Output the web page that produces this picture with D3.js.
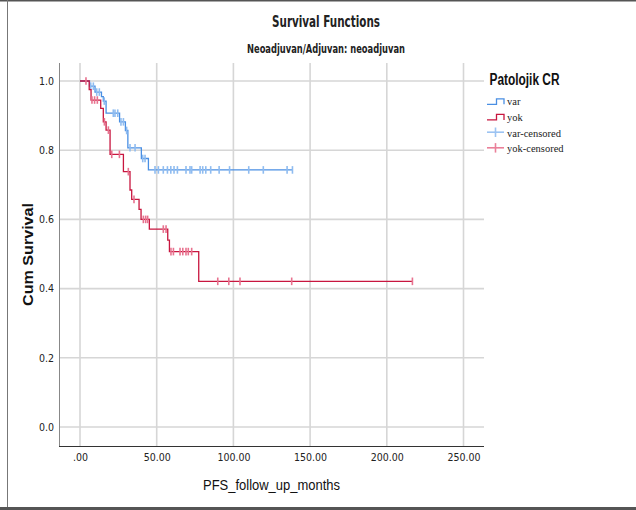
<!DOCTYPE html>
<html>
<head>
<meta charset="utf-8">
<script src="https://cdn.jsdelivr.net/npm/d3@7"></script>
<style>
  html, body { margin: 0; padding: 0; background: #fff; }
  svg { display: block; }
</style>
</head>
<body>
<svg id="chart" width="636" height="510"></svg>
<script>
// Kaplan-Meier progression-free survival, neoadjuvant subgroup, by pathological complete response
const groups = ["var", "yok"];
const legendLabels = ["var", "yok", "var-censored", "yok-censored"];

// "var" group: times (months) of each drop and the cumulative survival after it
const varEventTimes = [6.2, 9.8, 14.0, 15.2, 17.0, 25.8, 29.6, 31.2, 40.0, 44.6];
const varSurvival   = [0.985, 0.968, 0.955, 0.942, 0.907, 0.882, 0.857, 0.807, 0.776, 0.743];
const varCensorTimes = [7.0, 8.7, 10.9, 12.6, 15.8, 21.7, 22.8, 24.6, 26.7, 28.3, 30.4, 32.6, 35.9,
  40.9, 42.4, 48.9, 51.1, 54.3, 57.0, 59.2, 61.3, 63.5, 69.1, 71.7, 72.8, 78.3, 80.0, 82.0, 85.2,
  90.7, 97.5, 110.0, 119.5, 135.0, 138.5];

// "yok" group
const yokEventTimes = [6.0, 7.2, 13.5, 15.2, 17.0, 19.6, 28.3, 32.6, 33.7, 38.5, 39.8, 45.2, 57.2, 58.3, 77.4];
const yokSurvival   = [0.975, 0.945, 0.921, 0.882, 0.858, 0.788, 0.738, 0.685, 0.658, 0.629, 0.600,
  0.572, 0.540, 0.507, 0.421];
const yokCensorTimes = [3.9, 7.8, 9.5, 11.3, 15.9, 18.5, 20.7, 25.7, 31.5, 35.2, 41.3, 42.8, 44.1,
  54.3, 56.1, 59.3, 60.9, 65.2, 67.0, 69.1, 70.6, 72.8, 89.8, 97.0, 104.3, 138.0, 216.7];

const xTicks = [0, 50, 100, 150, 200, 250];
const yTicks = [0, 0.2, 0.4, 0.6, 0.8, 1.0];
const xTickLabels = [".00", "50.00", "100.00", "150.00", "200.00", "250.00"];

const colors = { var: "#4a8fe3", yok: "#c8163f" };
const censorColors = { var: "#8fbcf0", yok: "#e8728f" };

const svg = d3.select("#chart");
svg.append("rect").attr("width", 636).attr("height", 510).attr("fill", "#fff");

// outer frame
svg.append("line").attr("x1", 0).attr("x2", 636).attr("y1", 0.75).attr("y2", 0.75)
  .attr("stroke", "#555").attr("stroke-width", 1.5);
svg.append("line").attr("x1", 7.5).attr("x2", 7.5).attr("y1", 0).attr("y2", 510)
  .attr("stroke", "#777").attr("stroke-width", 1);
svg.append("line").attr("x1", 0).attr("x2", 636).attr("y1", 508.5).attr("y2", 508.5)
  .attr("stroke", "#555").attr("stroke-width", 3);

const plot = { left: 59, right: 484, top: 63, bottom: 446 };
const x = d3.scaleLinear().domain([0, 250]).range([80, 463.5]);
const y = d3.scaleLinear().domain([0, 1]).range([427, 81]);

const condensed = "'Liberation Sans Narrow', 'DejaVu Sans Condensed', 'Liberation Sans', sans-serif";

// gridlines
const grid = svg.append("g").attr("stroke", "#d6d6d6").attr("stroke-width", 1.6);
grid.selectAll("line.v").data(xTicks).join("line").attr("class", "v")
  .attr("x1", d => x(d)).attr("x2", d => x(d))
  .attr("y1", plot.top).attr("y2", plot.bottom);
grid.selectAll("line.h").data(yTicks).join("line").attr("class", "h")
  .attr("x1", plot.left).attr("x2", plot.right)
  .attr("y1", d => y(d)).attr("y2", d => y(d));

// axes
const xAxis = d3.axisBottom(x).tickValues(xTicks)
  .tickFormat((d, i) => xTickLabels[i]).tickSize(0).tickPadding(8);
const gx = svg.append("g").attr("transform", `translate(0,${plot.bottom})`).call(xAxis);
gx.select(".domain").remove();
gx.append("line").attr("x1", plot.left).attr("x2", plot.right).attr("y1", 0.5).attr("y2", 0.5)
  .attr("stroke", "#333").attr("stroke-width", 1);
gx.selectAll("text").attr("font-family", condensed).attr("font-size", 10.5).attr("fill", "#222");

const yAxis = d3.axisLeft(y).tickValues(yTicks).tickFormat(d3.format(".1f")).tickSize(0).tickPadding(5);
const gy = svg.append("g").attr("transform", `translate(${plot.left},0)`).call(yAxis);
gy.select(".domain").remove();
gy.append("line").attr("x1", 0.5).attr("x2", 0.5).attr("y1", plot.top).attr("y2", plot.bottom)
  .attr("stroke", "#888").attr("stroke-width", 1);
gy.selectAll("text").attr("font-family", condensed).attr("font-size", 10.5).attr("fill", "#222");

// titles
svg.append("text").attr("x", 326).attr("y", 27).attr("text-anchor", "middle")
  .attr("font-family", condensed).attr("font-weight", "bold").attr("font-size", 15)
  .attr("fill", "#222").attr("textLength", 108).attr("lengthAdjust", "spacingAndGlyphs")
  .text("Survival Functions");
svg.append("text").attr("x", 326).attr("y", 53).attr("text-anchor", "middle")
  .attr("font-family", condensed).attr("font-weight", "bold").attr("font-size", 12.5)
  .attr("fill", "#222").attr("textLength", 158).attr("lengthAdjust", "spacingAndGlyphs")
  .text("Neoadjuvan/Adjuvan: neoadjuvan");

svg.append("text").attr("x", (plot.left + plot.right) / 2).attr("y", 490)
  .attr("text-anchor", "middle").attr("font-family", "'Liberation Sans', Arial, sans-serif")
  .attr("font-size", 14).attr("fill", "#111").attr("textLength", 137)
  .attr("lengthAdjust", "spacingAndGlyphs").text("PFS_follow_up_months");
svg.append("text").attr("transform", `translate(32.5,${(plot.top + plot.bottom) / 2}) rotate(-90)`)
  .attr("text-anchor", "middle").attr("font-family", "'Liberation Sans', Arial, sans-serif")
  .attr("font-weight", "bold").attr("font-size", 14).attr("fill", "#111")
  .attr("textLength", 103).attr("lengthAdjust", "spacingAndGlyphs").text("Cum Survival");

// survival curves
const series = {
  var: { times: varEventTimes, surv: varSurvival, censors: varCensorTimes },
  yok: { times: yokEventTimes, surv: yokSurvival, censors: yokCensorTimes }
};

function survivalAt(s, t) {
  let v = 1;
  s.times.forEach((et, i) => { if (et <= t) v = s.surv[i]; });
  return v;
}

const stepLine = d3.line().x(d => x(d[0])).y(d => y(d[1])).curve(d3.curveStepAfter);

groups.forEach(g => {
  const s = series[g];
  const end = d3.max(s.censors.concat(s.times));
  const pts = [[0, 1]].concat(s.times.map((t, i) => [t, s.surv[i]]));
  pts.push([end, s.surv[s.surv.length - 1]]);

  svg.append("path").attr("d", stepLine(pts)).attr("fill", "none")
    .attr("stroke", colors[g]).attr("stroke-width", 1.3);

  svg.append("g").selectAll("line").data(s.censors).join("line")
    .attr("x1", d => x(d)).attr("x2", d => x(d))
    .attr("y1", d => y(survivalAt(s, d)) - 3.8).attr("y2", d => y(survivalAt(s, d)) + 3.8)
    .attr("stroke", censorColors[g]).attr("stroke-width", 1.6);
});

// legend
const lg = svg.append("g");
lg.append("text").attr("x", 489.5).attr("y", 84.5)
  .attr("font-family", "'Liberation Sans', Arial, sans-serif").attr("font-size", 16)
  .attr("font-weight", "bold").attr("fill", "#111")
  .attr("textLength", 70).attr("lengthAdjust", "spacingAndGlyphs")
  .text("Patolojik CR");

const legendColors = [colors.var, colors.yok, censorColors.var, censorColors.yok];
const legendLineColors = [colors.var, colors.yok, "#9cc3f2", "#ea8099"];
legendLabels.forEach((label, i) => {
  const base = 105.3 + i * 15.6;
  const item = lg.append("g");
  if (i < 2) {
    item.append("path")
      .attr("d", `M487,${base - 1}H496.5V${base - 6.5}H504V${base - 1}`)
      .attr("fill", "none").attr("stroke", legendColors[i]).attr("stroke-width", 1.3);
  } else {
    item.append("line").attr("x1", 487).attr("x2", 504)
      .attr("y1", base - 4.3).attr("y2", base - 4.3)
      .attr("stroke", legendLineColors[i]).attr("stroke-width", 1.6);
    item.append("line").attr("x1", 495.5).attr("x2", 495.5)
      .attr("y1", base - 9).attr("y2", base + 0.5)
      .attr("stroke", legendLineColors[i]).attr("stroke-width", 1.6);
  }
  item.append("text").attr("x", 507).attr("y", base)
    .attr("font-family", "'Liberation Serif', 'Times New Roman', serif").attr("font-size", 10.5)
    .attr("fill", "#222").text(label);
});
</script>
</body>
</html>
